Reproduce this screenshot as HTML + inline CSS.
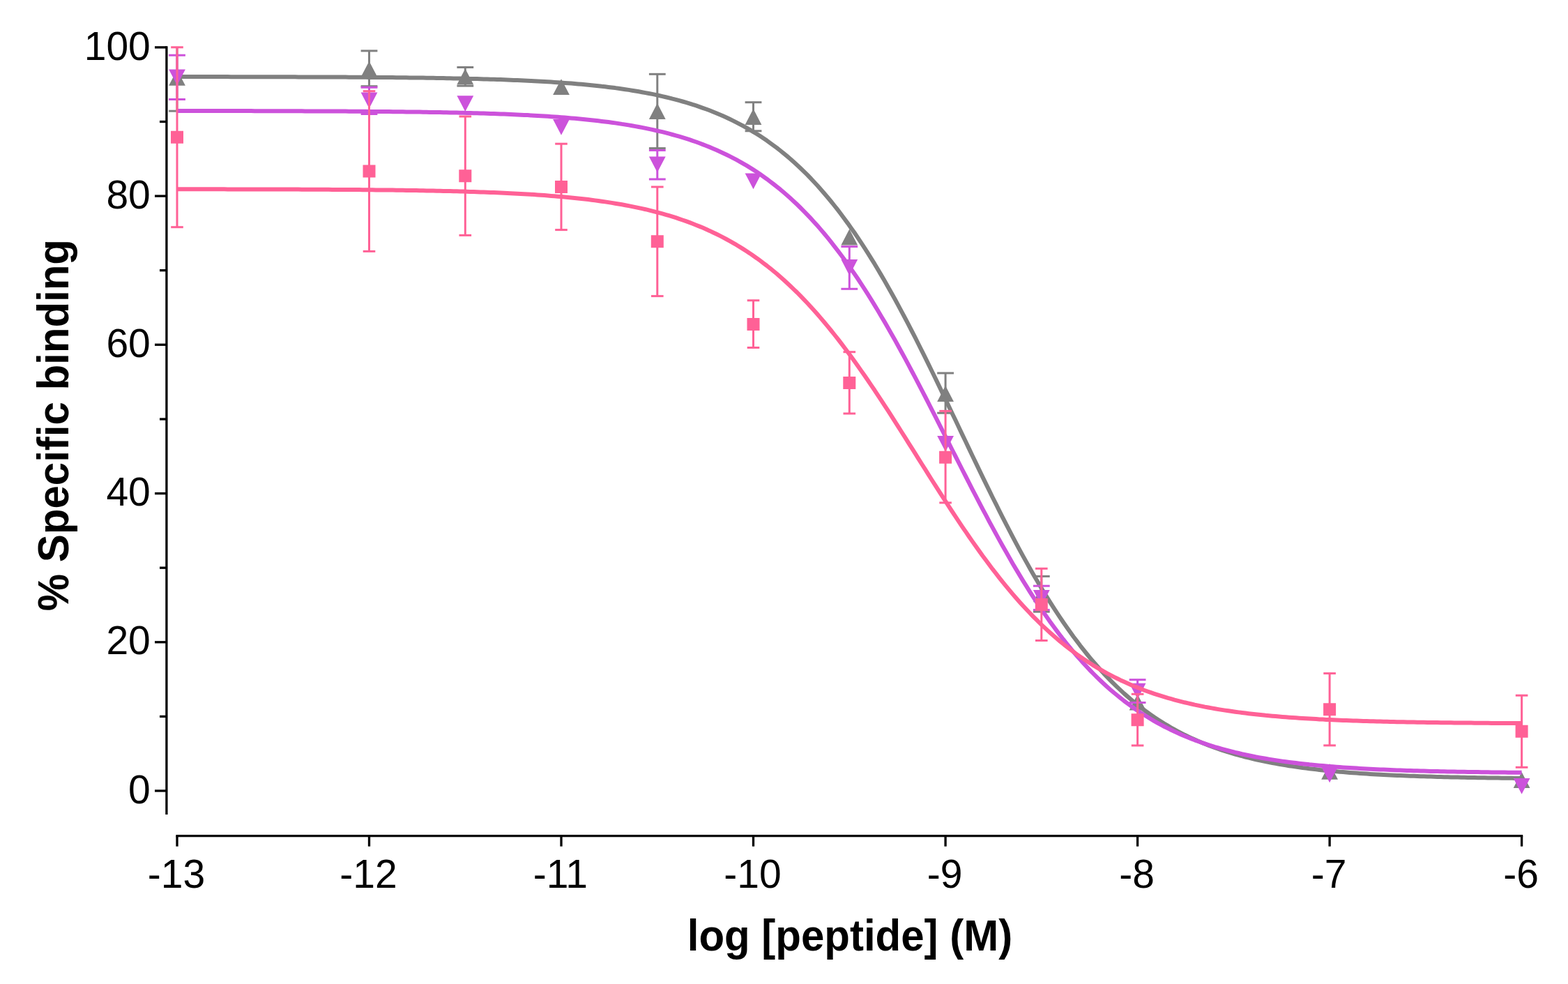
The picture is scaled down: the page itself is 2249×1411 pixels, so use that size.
<!DOCTYPE html>
<html><head><meta charset="utf-8"><title>Specific binding</title>
<style>html,body{margin:0;padding:0;background:#fff;width:2249px;height:1411px;overflow:hidden}svg{display:block}</style>
</head><body>
<svg width="2249" height="1411" viewBox="0 0 2249 1411">
<rect width="2249" height="1411" fill="#fff"/>
<line x1="238.9" y1="66.3" x2="238.9" y2="1168" stroke="#000" stroke-width="3.3"/><line x1="222" y1="1134.0" x2="238.9" y2="1134.0" stroke="#000" stroke-width="3.3"/><line x1="229" y1="1027.4" x2="238.9" y2="1027.4" stroke="#000" stroke-width="3.3"/><line x1="222" y1="920.8" x2="238.9" y2="920.8" stroke="#000" stroke-width="3.3"/><line x1="229" y1="814.2" x2="238.9" y2="814.2" stroke="#000" stroke-width="3.3"/><line x1="222" y1="707.6" x2="238.9" y2="707.6" stroke="#000" stroke-width="3.3"/><line x1="229" y1="601.0" x2="238.9" y2="601.0" stroke="#000" stroke-width="3.3"/><line x1="222" y1="494.3" x2="238.9" y2="494.3" stroke="#000" stroke-width="3.3"/><line x1="229" y1="387.7" x2="238.9" y2="387.7" stroke="#000" stroke-width="3.3"/><line x1="222" y1="281.1" x2="238.9" y2="281.1" stroke="#000" stroke-width="3.3"/><line x1="229" y1="174.5" x2="238.9" y2="174.5" stroke="#000" stroke-width="3.3"/><line x1="222" y1="67.9" x2="238.9" y2="67.9" stroke="#000" stroke-width="3.3"/><line x1="252.4" y1="1198.6" x2="2184.2" y2="1198.6" stroke="#000" stroke-width="3.3"/><line x1="254.0" y1="1198.6" x2="254.0" y2="1213.7" stroke="#000" stroke-width="3.3"/><line x1="529.5" y1="1198.6" x2="529.5" y2="1213.7" stroke="#000" stroke-width="3.3"/><line x1="805.0" y1="1198.6" x2="805.0" y2="1213.7" stroke="#000" stroke-width="3.3"/><line x1="1080.5" y1="1198.6" x2="1080.5" y2="1213.7" stroke="#000" stroke-width="3.3"/><line x1="1356.1" y1="1198.6" x2="1356.1" y2="1213.7" stroke="#000" stroke-width="3.3"/><line x1="1631.6" y1="1198.6" x2="1631.6" y2="1213.7" stroke="#000" stroke-width="3.3"/><line x1="1907.1" y1="1198.6" x2="1907.1" y2="1213.7" stroke="#000" stroke-width="3.3"/><line x1="2182.6" y1="1198.6" x2="2182.6" y2="1213.7" stroke="#000" stroke-width="3.3"/>
<g font-family="'Liberation Sans', Arial, sans-serif" font-size="57" fill="#000"><text x="215.8" y="1151.6" text-anchor="end">0</text><text x="215.8" y="938.4" text-anchor="end">20</text><text x="215.8" y="725.2" text-anchor="end">40</text><text x="215.8" y="511.9" text-anchor="end">60</text><text x="215.8" y="298.7" text-anchor="end">80</text><text x="215.8" y="85.5" text-anchor="end">100</text><text x="252.9" y="1272.8" text-anchor="middle">-13</text><text x="528.4" y="1272.8" text-anchor="middle">-12</text><text x="803.9" y="1272.8" text-anchor="middle">-11</text><text x="1079.4" y="1272.8" text-anchor="middle">-10</text><text x="1355.0" y="1272.8" text-anchor="middle">-9</text><text x="1630.5" y="1272.8" text-anchor="middle">-8</text><text x="1906.0" y="1272.8" text-anchor="middle">-7</text><text x="2181.5" y="1272.8" text-anchor="middle">-6</text></g>
<text transform="translate(1218.95,1363.4) scale(1,1.05)" text-anchor="middle" font-family="'Liberation Sans', Arial, sans-serif" font-weight="bold" font-size="60" fill="#000">log [peptide] (M)</text>
<text transform="translate(97.9,609.6) rotate(-90) scale(1,1.05)" text-anchor="middle" font-family="'Liberation Sans', Arial, sans-serif" font-weight="bold" font-size="60" fill="#000">% Specific binding</text>
<polyline points="254.0,110.1 258.8,110.1 263.7,110.1 268.5,110.1 273.3,110.1 278.2,110.1 283.0,110.1 287.8,110.1 292.7,110.1 297.5,110.1 302.3,110.1 307.2,110.1 312.0,110.1 316.8,110.1 321.7,110.1 326.5,110.1 331.3,110.2 336.2,110.2 341.0,110.2 345.8,110.2 350.7,110.2 355.5,110.2 360.3,110.2 365.2,110.2 370.0,110.2 374.8,110.2 379.7,110.2 384.5,110.2 389.3,110.3 394.2,110.3 399.0,110.3 403.8,110.3 408.7,110.3 413.5,110.3 418.3,110.3 423.2,110.3 428.0,110.4 432.8,110.4 437.7,110.4 442.5,110.4 447.3,110.4 452.2,110.4 457.0,110.5 461.8,110.5 466.7,110.5 471.5,110.5 476.3,110.5 481.2,110.6 486.0,110.6 490.8,110.6 495.7,110.6 500.5,110.7 505.3,110.7 510.2,110.7 515.0,110.8 519.8,110.8 524.7,110.8 529.5,110.9 534.3,110.9 539.2,110.9 544.0,111.0 548.8,111.0 553.7,111.0 558.5,111.1 563.3,111.1 568.2,111.2 573.0,111.2 577.9,111.3 582.7,111.3 587.5,111.4 592.4,111.4 597.2,111.5 602.0,111.6 606.9,111.6 611.7,111.7 616.5,111.8 621.4,111.8 626.2,111.9 631.0,112.0 635.9,112.1 640.7,112.2 645.5,112.3 650.4,112.4 655.2,112.4 660.0,112.5 664.9,112.7 669.7,112.8 674.5,112.9 679.4,113.0 684.2,113.1 689.0,113.2 693.9,113.4 698.7,113.5 703.5,113.7 708.4,113.8 713.2,114.0 718.0,114.1 722.9,114.3 727.7,114.5 732.5,114.7 737.4,114.9 742.2,115.1 747.0,115.3 751.9,115.5 756.7,115.7 761.5,115.9 766.4,116.2 771.2,116.4 776.0,116.7 780.9,117.0 785.7,117.3 790.5,117.6 795.4,117.9 800.2,118.2 805.0,118.5 809.9,118.9 814.7,119.2 819.5,119.6 824.4,120.0 829.2,120.4 834.0,120.8 838.9,121.3 843.7,121.7 848.5,122.2 853.4,122.7 858.2,123.2 863.0,123.8 867.9,124.3 872.7,124.9 877.5,125.5 882.4,126.1 887.2,126.8 892.0,127.5 896.9,128.2 901.7,128.9 906.5,129.7 911.4,130.5 916.2,131.3 921.0,132.2 925.9,133.1 930.7,134.0 935.5,134.9 940.4,135.9 945.2,137.0 950.0,138.1 954.9,139.2 959.7,140.3 964.5,141.6 969.4,142.8 974.2,144.1 979.0,145.5 983.9,146.9 988.7,148.3 993.5,149.9 998.4,151.4 1003.2,153.1 1008.0,154.8 1012.9,156.5 1017.7,158.3 1022.5,160.2 1027.4,162.2 1032.2,164.2 1037.0,166.3 1041.9,168.5 1046.7,170.8 1051.5,173.1 1056.4,175.6 1061.2,178.1 1066.0,180.7 1070.9,183.4 1075.7,186.2 1080.5,189.1 1085.4,192.0 1090.2,195.1 1095.0,198.3 1099.9,201.6 1104.7,205.1 1109.5,208.6 1114.4,212.2 1119.2,216.0 1124.0,219.9 1128.9,223.9 1133.7,228.0 1138.5,232.3 1143.4,236.7 1148.2,241.2 1153.0,245.9 1157.9,250.7 1162.7,255.7 1167.5,260.8 1172.4,266.0 1177.2,271.4 1182.0,277.0 1186.9,282.7 1191.7,288.5 1196.5,294.5 1201.4,300.7 1206.2,307.0 1211.0,313.5 1215.9,320.1 1220.7,326.9 1225.6,333.8 1230.4,340.9 1235.2,348.2 1240.1,355.6 1244.9,363.1 1249.7,370.9 1254.6,378.7 1259.4,386.8 1264.2,394.9 1269.1,403.2 1273.9,411.7 1278.7,420.3 1283.6,429.0 1288.4,437.9 1293.2,446.9 1298.1,456.0 1302.9,465.2 1307.7,474.5 1312.6,483.9 1317.4,493.5 1322.2,503.1 1327.1,512.8 1331.9,522.6 1336.7,532.5 1341.6,542.4 1346.4,552.4 1351.2,562.4 1356.1,572.5 1360.9,582.6 1365.7,592.7 1370.6,602.8 1375.4,613.0 1380.2,623.1 1385.1,633.3 1389.9,643.4 1394.7,653.5 1399.6,663.6 1404.4,673.6 1409.2,683.6 1414.1,693.6 1418.9,703.4 1423.7,713.2 1428.6,722.9 1433.4,732.6 1438.2,742.1 1443.1,751.6 1447.9,760.9 1452.7,770.1 1457.6,779.3 1462.4,788.3 1467.2,797.1 1472.1,805.9 1476.9,814.5 1481.7,822.9 1486.6,831.3 1491.4,839.5 1496.2,847.5 1501.1,855.4 1505.9,863.1 1510.7,870.7 1515.6,878.1 1520.4,885.4 1525.2,892.5 1530.1,899.5 1534.9,906.3 1539.7,913.0 1544.6,919.4 1549.4,925.8 1554.2,931.9 1559.1,938.0 1563.9,943.8 1568.7,949.5 1573.6,955.1 1578.4,960.5 1583.2,965.8 1588.1,970.9 1592.9,975.9 1597.7,980.7 1602.6,985.4 1607.4,989.9 1612.2,994.4 1617.1,998.6 1621.9,1002.8 1626.7,1006.8 1631.6,1010.7 1636.4,1014.5 1641.2,1018.2 1646.1,1021.7 1650.9,1025.1 1655.7,1028.5 1660.6,1031.7 1665.4,1034.8 1670.2,1037.8 1675.1,1040.7 1679.9,1043.5 1684.7,1046.2 1689.6,1048.8 1694.4,1051.3 1699.2,1053.8 1704.1,1056.1 1708.9,1058.4 1713.7,1060.6 1718.6,1062.7 1723.4,1064.7 1728.2,1066.7 1733.1,1068.6 1737.9,1070.4 1742.7,1072.2 1747.6,1073.9 1752.4,1075.6 1757.2,1077.1 1762.1,1078.7 1766.9,1080.1 1771.7,1081.5 1776.6,1082.9 1781.4,1084.2 1786.2,1085.5 1791.1,1086.7 1795.9,1087.9 1800.7,1089.0 1805.6,1090.1 1810.4,1091.1 1815.2,1092.1 1820.1,1093.1 1824.9,1094.0 1829.7,1094.9 1834.6,1095.8 1839.4,1096.6 1844.2,1097.4 1849.1,1098.2 1853.9,1098.9 1858.7,1099.6 1863.6,1100.3 1868.4,1101.0 1873.3,1101.6 1878.1,1102.2 1882.9,1102.8 1887.8,1103.3 1892.6,1103.9 1897.4,1104.4 1902.3,1104.9 1907.1,1105.4 1911.9,1105.8 1916.8,1106.3 1921.6,1106.7 1926.4,1107.1 1931.3,1107.5 1936.1,1107.9 1940.9,1108.3 1945.8,1108.6 1950.6,1108.9 1955.4,1109.3 1960.3,1109.6 1965.1,1109.9 1969.9,1110.2 1974.8,1110.4 1979.6,1110.7 1984.4,1111.0 1989.3,1111.2 1994.1,1111.4 1998.9,1111.7 2003.8,1111.9 2008.6,1112.1 2013.4,1112.3 2018.3,1112.5 2023.1,1112.7 2027.9,1112.8 2032.8,1113.0 2037.6,1113.2 2042.4,1113.3 2047.3,1113.5 2052.1,1113.6 2056.9,1113.8 2061.8,1113.9 2066.6,1114.0 2071.4,1114.2 2076.3,1114.3 2081.1,1114.4 2085.9,1114.5 2090.8,1114.6 2095.6,1114.7 2100.4,1114.8 2105.3,1114.9 2110.1,1115.0 2114.9,1115.1 2119.8,1115.2 2124.6,1115.2 2129.4,1115.3 2134.3,1115.4 2139.1,1115.5 2143.9,1115.5 2148.8,1115.6 2153.6,1115.7 2158.4,1115.7 2163.3,1115.8 2168.1,1115.8 2172.9,1115.9 2177.8,1115.9 2182.6,1116.0" fill="none" stroke="#808080" stroke-width="6" stroke-linejoin="round"/>
<g stroke="#808080" stroke-width="3"><line x1="254.0" y1="67.9" x2="254.0" y2="159.2"/><line x1="242.1" y1="159.2" x2="265.9" y2="159.2"/><line x1="529.5" y1="72.9" x2="529.5" y2="123.7"/><line x1="517.6" y1="72.9" x2="541.4" y2="72.9"/><line x1="517.6" y1="123.7" x2="541.4" y2="123.7"/><line x1="667.3" y1="96.5" x2="667.3" y2="123.1"/><line x1="655.4" y1="96.5" x2="679.2" y2="96.5"/><line x1="655.4" y1="123.1" x2="679.2" y2="123.1"/><line x1="942.8" y1="106.3" x2="942.8" y2="212.6"/><line x1="930.9" y1="106.3" x2="954.7" y2="106.3"/><line x1="930.9" y1="212.6" x2="954.7" y2="212.6"/><line x1="1080.5" y1="146.7" x2="1080.5" y2="187.8"/><line x1="1068.6" y1="146.7" x2="1092.4" y2="146.7"/><line x1="1068.6" y1="187.8" x2="1092.4" y2="187.8"/><line x1="1356.1" y1="535.0" x2="1356.1" y2="592.2"/><line x1="1344.2" y1="535.0" x2="1368.0" y2="535.0"/><line x1="1344.2" y1="592.2" x2="1368.0" y2="592.2"/><line x1="1493.8" y1="826.4" x2="1493.8" y2="877.2"/><line x1="1481.9" y1="826.4" x2="1505.7" y2="826.4"/><line x1="1481.9" y1="877.2" x2="1505.7" y2="877.2"/></g>
<path d="M254.0,99.9L265.9,122.7L242.1,122.7ZM529.5,87.8L541.4,110.6L517.6,110.6ZM667.3,98.4L679.2,121.2L655.4,121.2ZM805.0,113.2L816.9,136.0L793.1,136.0ZM942.8,148.1L954.7,170.9L930.9,170.9ZM1080.5,156.1L1092.4,178.9L1068.6,178.9ZM1218.3,328.6L1230.2,351.4L1206.4,351.4ZM1356.1,553.1L1368.0,575.9L1344.2,575.9ZM1493.8,840.4L1505.7,863.2L1481.9,863.2ZM1631.6,995.6L1643.5,1018.4L1619.7,1018.4ZM1907.1,1095.0L1919.0,1117.8L1895.2,1117.8ZM2182.6,1107.1L2194.5,1129.9L2170.7,1129.9Z" fill="#808080"/>
<polyline points="254.0,159.0 258.8,159.0 263.7,159.0 268.5,159.0 273.3,159.0 278.2,159.0 283.0,159.0 287.8,159.0 292.7,159.0 297.5,159.1 302.3,159.1 307.2,159.1 312.0,159.1 316.8,159.1 321.7,159.1 326.5,159.1 331.3,159.1 336.2,159.1 341.0,159.1 345.8,159.1 350.7,159.1 355.5,159.1 360.3,159.1 365.2,159.2 370.0,159.2 374.8,159.2 379.7,159.2 384.5,159.2 389.3,159.2 394.2,159.2 399.0,159.2 403.8,159.2 408.7,159.3 413.5,159.3 418.3,159.3 423.2,159.3 428.0,159.3 432.8,159.3 437.7,159.4 442.5,159.4 447.3,159.4 452.2,159.4 457.0,159.4 461.8,159.5 466.7,159.5 471.5,159.5 476.3,159.5 481.2,159.5 486.0,159.6 490.8,159.6 495.7,159.6 500.5,159.7 505.3,159.7 510.2,159.7 515.0,159.8 519.8,159.8 524.7,159.8 529.5,159.9 534.3,159.9 539.2,159.9 544.0,160.0 548.8,160.0 553.7,160.1 558.5,160.1 563.3,160.2 568.2,160.2 573.0,160.3 577.9,160.3 582.7,160.4 587.5,160.4 592.4,160.5 597.2,160.6 602.0,160.6 606.9,160.7 611.7,160.8 616.5,160.9 621.4,160.9 626.2,161.0 631.0,161.1 635.9,161.2 640.7,161.3 645.5,161.4 650.4,161.5 655.2,161.6 660.0,161.7 664.9,161.8 669.7,161.9 674.5,162.1 679.4,162.2 684.2,162.3 689.0,162.5 693.9,162.6 698.7,162.8 703.5,162.9 708.4,163.1 713.2,163.3 718.0,163.4 722.9,163.6 727.7,163.8 732.5,164.0 737.4,164.2 742.2,164.4 747.0,164.7 751.9,164.9 756.7,165.1 761.5,165.4 766.4,165.7 771.2,165.9 776.0,166.2 780.9,166.5 785.7,166.8 790.5,167.2 795.4,167.5 800.2,167.8 805.0,168.2 809.9,168.6 814.7,169.0 819.5,169.4 824.4,169.8 829.2,170.2 834.0,170.7 838.9,171.2 843.7,171.7 848.5,172.2 853.4,172.7 858.2,173.3 863.0,173.9 867.9,174.5 872.7,175.1 877.5,175.7 882.4,176.4 887.2,177.1 892.0,177.9 896.9,178.6 901.7,179.4 906.5,180.2 911.4,181.1 916.2,182.0 921.0,182.9 925.9,183.9 930.7,184.9 935.5,185.9 940.4,187.0 945.2,188.1 950.0,189.2 954.9,190.4 959.7,191.7 964.5,193.0 969.4,194.3 974.2,195.7 979.0,197.2 983.9,198.7 988.7,200.2 993.5,201.9 998.4,203.5 1003.2,205.3 1008.0,207.1 1012.9,209.0 1017.7,210.9 1022.5,212.9 1027.4,215.0 1032.2,217.2 1037.0,219.4 1041.9,221.7 1046.7,224.1 1051.5,226.6 1056.4,229.2 1061.2,231.8 1066.0,234.6 1070.9,237.4 1075.7,240.4 1080.5,243.4 1085.4,246.6 1090.2,249.8 1095.0,253.2 1099.9,256.7 1104.7,260.3 1109.5,264.0 1114.4,267.8 1119.2,271.7 1124.0,275.8 1128.9,280.0 1133.7,284.3 1138.5,288.7 1143.4,293.3 1148.2,298.0 1153.0,302.8 1157.9,307.8 1162.7,312.9 1167.5,318.2 1172.4,323.6 1177.2,329.1 1182.0,334.8 1186.9,340.7 1191.7,346.7 1196.5,352.8 1201.4,359.1 1206.2,365.5 1211.0,372.1 1215.9,378.8 1220.7,385.7 1225.6,392.7 1230.4,399.8 1235.2,407.1 1240.1,414.6 1244.9,422.2 1249.7,429.9 1254.6,437.8 1259.4,445.7 1264.2,453.9 1269.1,462.1 1273.9,470.5 1278.7,478.9 1283.6,487.5 1288.4,496.2 1293.2,505.0 1298.1,513.9 1302.9,522.9 1307.7,532.0 1312.6,541.1 1317.4,550.3 1322.2,559.6 1327.1,569.0 1331.9,578.4 1336.7,587.8 1341.6,597.3 1346.4,606.8 1351.2,616.3 1356.1,625.9 1360.9,635.4 1365.7,645.0 1370.6,654.5 1375.4,664.0 1380.2,673.5 1385.1,683.0 1389.9,692.4 1394.7,701.8 1399.6,711.1 1404.4,720.4 1409.2,729.6 1414.1,738.7 1418.9,747.8 1423.7,756.7 1428.6,765.6 1433.4,774.4 1438.2,783.0 1443.1,791.6 1447.9,800.0 1452.7,808.4 1457.6,816.6 1462.4,824.6 1467.2,832.6 1472.1,840.4 1476.9,848.1 1481.7,855.6 1486.6,863.0 1491.4,870.3 1496.2,877.4 1501.1,884.3 1505.9,891.2 1510.7,897.8 1515.6,904.4 1520.4,910.7 1525.2,917.0 1530.1,923.1 1534.9,929.0 1539.7,934.8 1544.6,940.4 1549.4,945.9 1554.2,951.3 1559.1,956.5 1563.9,961.6 1568.7,966.5 1573.6,971.3 1578.4,976.0 1583.2,980.5 1588.1,984.9 1592.9,989.2 1597.7,993.3 1602.6,997.3 1607.4,1001.2 1612.2,1005.0 1617.1,1008.7 1621.9,1012.2 1626.7,1015.7 1631.6,1019.0 1636.4,1022.2 1641.2,1025.3 1646.1,1028.3 1650.9,1031.2 1655.7,1034.1 1660.6,1036.8 1665.4,1039.4 1670.2,1042.0 1675.1,1044.4 1679.9,1046.8 1684.7,1049.1 1689.6,1051.3 1694.4,1053.4 1699.2,1055.5 1704.1,1057.5 1708.9,1059.4 1713.7,1061.3 1718.6,1063.0 1723.4,1064.8 1728.2,1066.4 1733.1,1068.0 1737.9,1069.6 1742.7,1071.1 1747.6,1072.5 1752.4,1073.9 1757.2,1075.2 1762.1,1076.5 1766.9,1077.7 1771.7,1078.9 1776.6,1080.0 1781.4,1081.2 1786.2,1082.2 1791.1,1083.2 1795.9,1084.2 1800.7,1085.2 1805.6,1086.1 1810.4,1087.0 1815.2,1087.8 1820.1,1088.6 1824.9,1089.4 1829.7,1090.1 1834.6,1090.9 1839.4,1091.6 1844.2,1092.2 1849.1,1092.9 1853.9,1093.5 1858.7,1094.1 1863.6,1094.7 1868.4,1095.2 1873.3,1095.7 1878.1,1096.3 1882.9,1096.7 1887.8,1097.2 1892.6,1097.7 1897.4,1098.1 1902.3,1098.5 1907.1,1098.9 1911.9,1099.3 1916.8,1099.7 1921.6,1100.0 1926.4,1100.4 1931.3,1100.7 1936.1,1101.0 1940.9,1101.3 1945.8,1101.6 1950.6,1101.9 1955.4,1102.2 1960.3,1102.4 1965.1,1102.7 1969.9,1102.9 1974.8,1103.2 1979.6,1103.4 1984.4,1103.6 1989.3,1103.8 1994.1,1104.0 1998.9,1104.2 2003.8,1104.4 2008.6,1104.6 2013.4,1104.7 2018.3,1104.9 2023.1,1105.0 2027.9,1105.2 2032.8,1105.3 2037.6,1105.5 2042.4,1105.6 2047.3,1105.7 2052.1,1105.9 2056.9,1106.0 2061.8,1106.1 2066.6,1106.2 2071.4,1106.3 2076.3,1106.4 2081.1,1106.5 2085.9,1106.6 2090.8,1106.7 2095.6,1106.8 2100.4,1106.8 2105.3,1106.9 2110.1,1107.0 2114.9,1107.1 2119.8,1107.1 2124.6,1107.2 2129.4,1107.3 2134.3,1107.3 2139.1,1107.4 2143.9,1107.5 2148.8,1107.5 2153.6,1107.6 2158.4,1107.6 2163.3,1107.7 2168.1,1107.7 2172.9,1107.7 2177.8,1107.8 2182.6,1107.8" fill="none" stroke="#CC52DB" stroke-width="6" stroke-linejoin="round"/>
<g stroke="#CC52DB" stroke-width="3"><line x1="254.0" y1="79.2" x2="254.0" y2="142.5"/><line x1="242.1" y1="79.2" x2="265.9" y2="79.2"/><line x1="242.1" y1="142.5" x2="265.9" y2="142.5"/><line x1="529.5" y1="125.3" x2="529.5" y2="163.5"/><line x1="517.6" y1="125.3" x2="541.4" y2="125.3"/><line x1="517.6" y1="163.5" x2="541.4" y2="163.5"/><line x1="942.8" y1="215.5" x2="942.8" y2="257.0"/><line x1="930.9" y1="215.5" x2="954.7" y2="215.5"/><line x1="930.9" y1="257.0" x2="954.7" y2="257.0"/><line x1="1218.3" y1="353.6" x2="1218.3" y2="414.3"/><line x1="1206.4" y1="353.6" x2="1230.2" y2="353.6"/><line x1="1206.4" y1="414.3" x2="1230.2" y2="414.3"/><line x1="1493.8" y1="840.2" x2="1493.8" y2="874.6"/><line x1="1481.9" y1="840.2" x2="1505.7" y2="840.2"/><line x1="1481.9" y1="874.6" x2="1505.7" y2="874.6"/><line x1="1631.6" y1="974.7" x2="1631.6" y2="1007.5"/><line x1="1619.7" y1="974.7" x2="1643.5" y2="974.7"/><line x1="1619.7" y1="1007.5" x2="1643.5" y2="1007.5"/></g>
<path d="M242.1,99.4L265.9,99.4L254.0,122.2ZM517.6,132.6L541.4,132.6L529.5,155.4ZM655.4,137.3L679.2,137.3L667.3,160.1ZM793.1,170.9L816.9,170.9L805.0,193.7ZM930.9,224.4L954.7,224.4L942.8,247.2ZM1068.6,248.4L1092.4,248.4L1080.5,271.2ZM1206.4,372.1L1230.2,372.1L1218.3,394.9ZM1344.2,624.9L1368.0,624.9L1356.1,647.7ZM1481.9,846.0L1505.7,846.0L1493.8,868.8ZM1619.7,979.7L1643.5,979.7L1631.6,1002.5ZM1895.2,1099.4L1919.0,1099.4L1907.1,1122.2ZM2170.7,1115.9L2194.5,1115.9L2182.6,1138.7Z" fill="#CC52DB"/>
<polyline points="254.0,271.3 258.8,271.3 263.7,271.3 268.5,271.3 273.3,271.3 278.2,271.3 283.0,271.3 287.8,271.3 292.7,271.3 297.5,271.3 302.3,271.3 307.2,271.3 312.0,271.3 316.8,271.3 321.7,271.3 326.5,271.4 331.3,271.4 336.2,271.4 341.0,271.4 345.8,271.4 350.7,271.4 355.5,271.4 360.3,271.4 365.2,271.4 370.0,271.4 374.8,271.5 379.7,271.5 384.5,271.5 389.3,271.5 394.2,271.5 399.0,271.5 403.8,271.5 408.7,271.6 413.5,271.6 418.3,271.6 423.2,271.6 428.0,271.6 432.8,271.7 437.7,271.7 442.5,271.7 447.3,271.7 452.2,271.7 457.0,271.8 461.8,271.8 466.7,271.8 471.5,271.8 476.3,271.9 481.2,271.9 486.0,271.9 490.8,272.0 495.7,272.0 500.5,272.0 505.3,272.1 510.2,272.1 515.0,272.1 519.8,272.2 524.7,272.2 529.5,272.3 534.3,272.3 539.2,272.4 544.0,272.4 548.8,272.5 553.7,272.5 558.5,272.6 563.3,272.6 568.2,272.7 573.0,272.8 577.9,272.8 582.7,272.9 587.5,273.0 592.4,273.0 597.2,273.1 602.0,273.2 606.9,273.3 611.7,273.4 616.5,273.5 621.4,273.6 626.2,273.7 631.0,273.8 635.9,273.9 640.7,274.0 645.5,274.1 650.4,274.2 655.2,274.3 660.0,274.5 664.9,274.6 669.7,274.7 674.5,274.9 679.4,275.0 684.2,275.2 689.0,275.4 693.9,275.5 698.7,275.7 703.5,275.9 708.4,276.1 713.2,276.3 718.0,276.5 722.9,276.7 727.7,276.9 732.5,277.2 737.4,277.4 742.2,277.7 747.0,277.9 751.9,278.2 756.7,278.5 761.5,278.8 766.4,279.1 771.2,279.4 776.0,279.8 780.9,280.1 785.7,280.5 790.5,280.9 795.4,281.3 800.2,281.7 805.0,282.1 809.9,282.5 814.7,283.0 819.5,283.5 824.4,284.0 829.2,284.5 834.0,285.0 838.9,285.6 843.7,286.1 848.5,286.7 853.4,287.4 858.2,288.0 863.0,288.7 867.9,289.4 872.7,290.1 877.5,290.9 882.4,291.7 887.2,292.5 892.0,293.3 896.9,294.2 901.7,295.1 906.5,296.1 911.4,297.1 916.2,298.1 921.0,299.1 925.9,300.2 930.7,301.4 935.5,302.6 940.4,303.8 945.2,305.1 950.0,306.4 954.9,307.8 959.7,309.2 964.5,310.7 969.4,312.2 974.2,313.8 979.0,315.5 983.9,317.2 988.7,318.9 993.5,320.8 998.4,322.7 1003.2,324.6 1008.0,326.6 1012.9,328.8 1017.7,330.9 1022.5,333.2 1027.4,335.5 1032.2,337.9 1037.0,340.4 1041.9,343.0 1046.7,345.6 1051.5,348.4 1056.4,351.2 1061.2,354.1 1066.0,357.1 1070.9,360.2 1075.7,363.4 1080.5,366.8 1085.4,370.2 1090.2,373.7 1095.0,377.3 1099.9,381.0 1104.7,384.8 1109.5,388.8 1114.4,392.8 1119.2,397.0 1124.0,401.3 1128.9,405.7 1133.7,410.2 1138.5,414.8 1143.4,419.5 1148.2,424.4 1153.0,429.4 1157.9,434.5 1162.7,439.7 1167.5,445.0 1172.4,450.5 1177.2,456.1 1182.0,461.7 1186.9,467.6 1191.7,473.5 1196.5,479.5 1201.4,485.6 1206.2,491.9 1211.0,498.3 1215.9,504.7 1220.7,511.3 1225.6,518.0 1230.4,524.7 1235.2,531.6 1240.1,538.5 1244.9,545.5 1249.7,552.7 1254.6,559.8 1259.4,567.1 1264.2,574.4 1269.1,581.8 1273.9,589.2 1278.7,596.7 1283.6,604.3 1288.4,611.8 1293.2,619.5 1298.1,627.1 1302.9,634.8 1307.7,642.4 1312.6,650.1 1317.4,657.8 1322.2,665.5 1327.1,673.2 1331.9,680.8 1336.7,688.5 1341.6,696.1 1346.4,703.7 1351.2,711.2 1356.1,718.7 1360.9,726.2 1365.7,733.5 1370.6,740.9 1375.4,748.1 1380.2,755.3 1385.1,762.4 1389.9,769.5 1394.7,776.4 1399.6,783.3 1404.4,790.1 1409.2,796.8 1414.1,803.3 1418.9,809.8 1423.7,816.2 1428.6,822.4 1433.4,828.6 1438.2,834.7 1443.1,840.6 1447.9,846.4 1452.7,852.1 1457.6,857.7 1462.4,863.2 1467.2,868.5 1472.1,873.7 1476.9,878.8 1481.7,883.8 1486.6,888.7 1491.4,893.5 1496.2,898.1 1501.1,902.6 1505.9,907.0 1510.7,911.3 1515.6,915.5 1520.4,919.6 1525.2,923.5 1530.1,927.4 1534.9,931.1 1539.7,934.7 1544.6,938.3 1549.4,941.7 1554.2,945.0 1559.1,948.2 1563.9,951.3 1568.7,954.4 1573.6,957.3 1578.4,960.1 1583.2,962.9 1588.1,965.6 1592.9,968.1 1597.7,970.6 1602.6,973.0 1607.4,975.4 1612.2,977.6 1617.1,979.8 1621.9,981.9 1626.7,984.0 1631.6,985.9 1636.4,987.8 1641.2,989.7 1646.1,991.5 1650.9,993.2 1655.7,994.8 1660.6,996.4 1665.4,997.9 1670.2,999.4 1675.1,1000.9 1679.9,1002.2 1684.7,1003.6 1689.6,1004.9 1694.4,1006.1 1699.2,1007.3 1704.1,1008.4 1708.9,1009.5 1713.7,1010.6 1718.6,1011.6 1723.4,1012.6 1728.2,1013.6 1733.1,1014.5 1737.9,1015.4 1742.7,1016.2 1747.6,1017.1 1752.4,1017.9 1757.2,1018.6 1762.1,1019.3 1766.9,1020.0 1771.7,1020.7 1776.6,1021.4 1781.4,1022.0 1786.2,1022.6 1791.1,1023.2 1795.9,1023.8 1800.7,1024.3 1805.6,1024.8 1810.4,1025.3 1815.2,1025.8 1820.1,1026.2 1824.9,1026.7 1829.7,1027.1 1834.6,1027.5 1839.4,1027.9 1844.2,1028.3 1849.1,1028.7 1853.9,1029.0 1858.7,1029.3 1863.6,1029.7 1868.4,1030.0 1873.3,1030.3 1878.1,1030.6 1882.9,1030.8 1887.8,1031.1 1892.6,1031.4 1897.4,1031.6 1902.3,1031.9 1907.1,1032.1 1911.9,1032.3 1916.8,1032.5 1921.6,1032.7 1926.4,1032.9 1931.3,1033.1 1936.1,1033.3 1940.9,1033.4 1945.8,1033.6 1950.6,1033.8 1955.4,1033.9 1960.3,1034.1 1965.1,1034.2 1969.9,1034.3 1974.8,1034.5 1979.6,1034.6 1984.4,1034.7 1989.3,1034.8 1994.1,1034.9 1998.9,1035.1 2003.8,1035.2 2008.6,1035.3 2013.4,1035.3 2018.3,1035.4 2023.1,1035.5 2027.9,1035.6 2032.8,1035.7 2037.6,1035.8 2042.4,1035.8 2047.3,1035.9 2052.1,1036.0 2056.9,1036.1 2061.8,1036.1 2066.6,1036.2 2071.4,1036.2 2076.3,1036.3 2081.1,1036.3 2085.9,1036.4 2090.8,1036.4 2095.6,1036.5 2100.4,1036.5 2105.3,1036.6 2110.1,1036.6 2114.9,1036.7 2119.8,1036.7 2124.6,1036.7 2129.4,1036.8 2134.3,1036.8 2139.1,1036.9 2143.9,1036.9 2148.8,1036.9 2153.6,1036.9 2158.4,1037.0 2163.3,1037.0 2168.1,1037.0 2172.9,1037.1 2177.8,1037.1 2182.6,1037.1" fill="none" stroke="#FF6196" stroke-width="6" stroke-linejoin="round"/>
<g stroke="#FF6196" stroke-width="3"><line x1="254.0" y1="67.8" x2="254.0" y2="325.7"/><line x1="245.2" y1="67.8" x2="262.8" y2="67.8"/><line x1="245.2" y1="325.7" x2="262.8" y2="325.7"/><line x1="529.5" y1="130.7" x2="529.5" y2="360.4"/><line x1="520.7" y1="130.7" x2="538.3" y2="130.7"/><line x1="520.7" y1="360.4" x2="538.3" y2="360.4"/><line x1="667.3" y1="167.0" x2="667.3" y2="337.4"/><line x1="658.5" y1="167.0" x2="676.1" y2="167.0"/><line x1="658.5" y1="337.4" x2="676.1" y2="337.4"/><line x1="805.0" y1="206.2" x2="805.0" y2="329.6"/><line x1="796.2" y1="206.2" x2="813.8" y2="206.2"/><line x1="796.2" y1="329.6" x2="813.8" y2="329.6"/><line x1="942.8" y1="268.0" x2="942.8" y2="424.6"/><line x1="934.0" y1="268.0" x2="951.6" y2="268.0"/><line x1="934.0" y1="424.6" x2="951.6" y2="424.6"/><line x1="1080.5" y1="430.8" x2="1080.5" y2="498.5"/><line x1="1071.7" y1="430.8" x2="1089.3" y2="430.8"/><line x1="1071.7" y1="498.5" x2="1089.3" y2="498.5"/><line x1="1218.3" y1="504.7" x2="1218.3" y2="593.0"/><line x1="1209.5" y1="504.7" x2="1227.1" y2="504.7"/><line x1="1209.5" y1="593.0" x2="1227.1" y2="593.0"/><line x1="1356.1" y1="589.4" x2="1356.1" y2="720.9"/><line x1="1347.3" y1="589.4" x2="1364.9" y2="589.4"/><line x1="1347.3" y1="720.9" x2="1364.9" y2="720.9"/><line x1="1493.8" y1="815.3" x2="1493.8" y2="918.5"/><line x1="1485.0" y1="815.3" x2="1502.6" y2="815.3"/><line x1="1485.0" y1="918.5" x2="1502.6" y2="918.5"/><line x1="1631.6" y1="995.3" x2="1631.6" y2="1069.0"/><line x1="1622.8" y1="995.3" x2="1640.4" y2="995.3"/><line x1="1622.8" y1="1069.0" x2="1640.4" y2="1069.0"/><line x1="1907.1" y1="965.6" x2="1907.1" y2="1068.9"/><line x1="1898.3" y1="965.6" x2="1915.9" y2="965.6"/><line x1="1898.3" y1="1068.9" x2="1915.9" y2="1068.9"/><line x1="2182.6" y1="997.2" x2="2182.6" y2="1100.3"/><line x1="2173.8" y1="997.2" x2="2191.4" y2="997.2"/><line x1="2173.8" y1="1100.3" x2="2191.4" y2="1100.3"/></g>
<path d="M245.0,187.8h18v18h-18ZM520.5,236.4h18v18h-18ZM658.3,243.2h18v18h-18ZM796.0,258.9h18v18h-18ZM933.8,337.3h18v18h-18ZM1071.5,456.0h18v18h-18ZM1209.3,539.9h18v18h-18ZM1347.1,646.7h18v18h-18ZM1484.8,857.9h18v18h-18ZM1622.6,1023.2h18v18h-18ZM1898.1,1008.3h18v18h-18ZM2173.6,1039.7h18v18h-18Z" fill="#FF6196"/>
</svg>
</body></html>
